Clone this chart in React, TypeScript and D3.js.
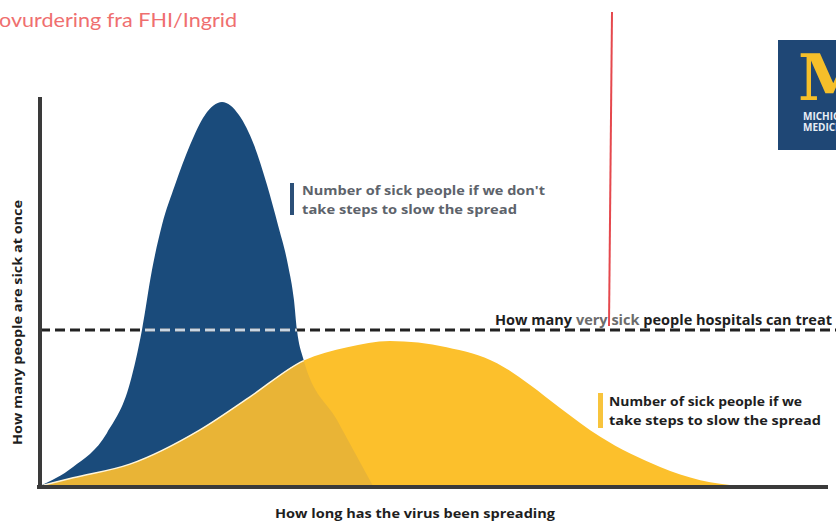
import React from 'react';
import * as d3 from 'd3';

// Time (0-100) vs. people sick (0-100)
const blueTime = [0, 4.19, 8.5, 11.42, 12.94, 14.21, 15.48, 17.13, 19.04, 20.94, 23.1, 25.25, 27.16, 28.81, 30.2, 31.47, 32.23, 32.61, 33.38, 37.69, 42.26];
const blueSick = [0, 4.87, 13.59, 26.41, 40.0, 55.38, 66.92, 77.18, 87.44, 95.13, 98.46, 95.13, 87.44, 77.18, 66.92, 56.67, 47.69, 40.0, 32.82, 16.92, 0];
const yellowTime = [0, 4.2, 11.4, 20.3, 26.6, 33.4, 39.0, 44.4, 51.6, 58.0, 62.2, 66.0, 71.1, 78.7, 83.8, 88.8];
const yellowSick = [0, 2.1, 5.6, 14.4, 22.8, 32.1, 35.6, 37.2, 35.6, 31.5, 25.9, 20.0, 12.6, 4.9, 1.5, 0];
const capacity = 40;

const headerText = 'ovurdering fra FHI/Ingrid';
const capacityLabel = ['How many ', 'very sick', ' people hospitals can treat'];
const blueLegend = ["Number of sick people if we don't", 'take steps to slow the spread'];
const yellowLegend = ['Number of sick people if we', 'take steps to slow the spread'];
const xTitle = 'How long has the virus been spreading';
const yTitle = 'How many people are sick at once';
const logoLines = ['MICHIGAN', 'MEDICINE'];

const W = 836, H = 525;
const FONT = '"Open Sans", Lato, sans-serif';

export default function App() {
  const x = d3.scaleLinear().domain([0, 100]).range([40, 828]);
  const y = d3.scaleLinear().domain([0, 100]).range([486, 96]);

  const area = d3.area<[number, number]>()
    .x(d => x(d[0]))
    .y0(y(0))
    .y1(d => y(d[1]))
    .curve(d3.curveMonotoneX);
  const line = d3.line<[number, number]>()
    .x(d => x(d[0]))
    .y(d => y(d[1]))
    .curve(d3.curveMonotoneX);

  const blue: [number, number][] = blueTime.map((t, i) => [t, blueSick[i]]);
  const yellow: [number, number][] = yellowTime.map((t, i) => [t, yellowSick[i]]);
  const bluePath = area(blue) || '';
  const yellowPath = area(yellow) || '';
  const yellowTop = line(yellow) || '';
  const capY = y(capacity);

  return (
    <svg width={W} height={H} style={{ position: 'absolute', left: 0, top: 0, background: '#fff' }}>
      <defs>
        <clipPath id="clipYellow"><path d={yellowPath} /></clipPath>
        <clipPath id="clipBlue"><path d={bluePath} /></clipPath>
      </defs>

      <text x={-1} y={27} fontFamily='Lato, sans-serif' fontSize={20} fill="#ef6f6f" textLength={238} lengthAdjust="spacingAndGlyphs">{headerText}</text>

      {/* Michigan Medicine logo */}
      <rect x={778} y={40} width={70} height={110} fill="#1f4775" />
      <text x={798} y={100} fontFamily='"DejaVu Serif", serif' fontWeight={900} fontSize={64} fill="#f5bf2a">M</text>
      {logoLines.map((t, i) => (
        <text key={t} x={803} y={120 + i * 11} fontFamily={FONT} fontWeight={700} fontSize={10} fill="#e8eef5">{t}</text>
      ))}

      {/* curves */}
      <path d={bluePath} fill="#1a4b7b" />
      <path d={yellowPath} fill="#fcc02c" />
      <path d={bluePath} fill="#e9b436" clipPath="url(#clipYellow)" />
      <path d={yellowTop} fill="none" stroke="#fff6dc" strokeWidth={1.5} clipPath="url(#clipBlue)" />

      {/* capacity line */}
      <line x1={x(0)} x2={W} y1={capY} y2={capY} stroke="#222" strokeWidth={3} strokeDasharray="10,5" />
      <g clipPath="url(#clipBlue)">
        <line x1={x(0)} x2={W} y1={capY} y2={capY} stroke="#c9d6e3" strokeWidth={3} strokeDasharray="10,5" />
      </g>
      <text x={495} y={325} fontFamily={FONT} fontWeight={700} fontSize={13.5} fill="#1e1e1e" textLength={337} lengthAdjust="spacingAndGlyphs">
        <tspan>{capacityLabel[0]}</tspan>
        <tspan fill="#6c6c6c">{capacityLabel[1]}</tspan>
        <tspan>{capacityLabel[2]}</tspan>
      </text>

      {/* red marker line */}
      <line x1={612} y1={12} x2={609} y2={326} stroke="#e5484d" strokeWidth={2} />

      {/* legends */}
      <rect x={290} y={183} width={4} height={32} fill="#2c5078" />
      <text x={302} y={195} fontFamily={FONT} fontWeight={700} fontSize={12.8} fill="#5d636b" textLength={243} lengthAdjust="spacingAndGlyphs">{blueLegend[0]}</text>
      <text x={302} y={214} fontFamily={FONT} fontWeight={700} fontSize={12.8} fill="#5d636b" textLength={215} lengthAdjust="spacingAndGlyphs">{blueLegend[1]}</text>
      <rect x={598} y={393} width={5} height={35} fill="#f8c43c" />
      <text x={609} y={406} fontFamily={FONT} fontWeight={700} fontSize={12.8} fill="#1e1e1e" textLength={193} lengthAdjust="spacingAndGlyphs">{yellowLegend[0]}</text>
      <text x={609} y={425} fontFamily={FONT} fontWeight={700} fontSize={12.8} fill="#1e1e1e" textLength={212} lengthAdjust="spacingAndGlyphs">{yellowLegend[1]}</text>

      {/* axes */}
      <line x1={x(0)} x2={x(0)} y1={97} y2={489} stroke="#3a3a3a" strokeWidth={4} />
      <line x1={37} x2={828} y1={487} y2={487} stroke="#3a3a3a" strokeWidth={4} />

      <text x={275} y={518} fontFamily={FONT} fontWeight={700} fontSize={13} fill="#1e1e1e" textLength={280} lengthAdjust="spacingAndGlyphs">{xTitle}</text>
      <text transform="translate(22,445) rotate(-90)" fontFamily={FONT} fontWeight={700} fontSize={13} fill="#1e1e1e" textLength={245} lengthAdjust="spacingAndGlyphs">{yTitle}</text>
    </svg>
  );
}
